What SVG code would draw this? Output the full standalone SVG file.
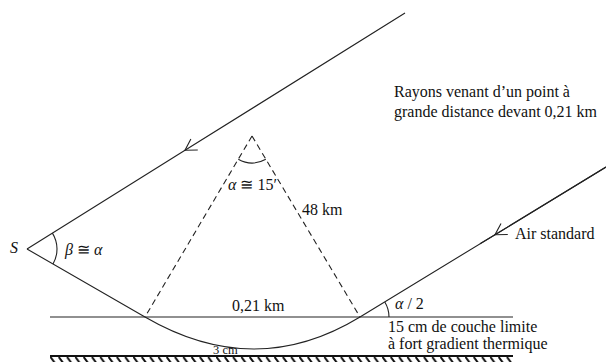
<svg xmlns="http://www.w3.org/2000/svg" width="606" height="362" viewBox="0 0 606 362">
<style>
.ln{fill:none;stroke:#222;stroke-width:1.1}
.ds{fill:none;stroke:#222;stroke-width:1.1;stroke-dasharray:6,4}
text{font-family:'Liberation Serif','Times New Roman',Times,serif;font-size:16px;fill:#111}
.i{font-style:italic}
</style>
<defs>
<marker id="chev" viewBox="-14 -8 16 16" markerWidth="16" markerHeight="16" refX="0" refY="0" orient="auto" markerUnits="userSpaceOnUse">
<path d="M-11,-6.5 L0,0 L-11,6.5" fill="none" stroke="#222" stroke-width="1.1"/>
</marker>
<pattern id="hatch" x="50" y="357" width="8.3" height="6" patternUnits="userSpaceOnUse">
<path d="M0.5,0 L4.5,5.5" stroke="#111" stroke-width="2"/>
</pattern>
</defs>
<rect width="606" height="362" fill="#fff"/>
<g id="connectors">
<polyline id="ray-top" class="ln" points="405,13 185,150.3 27,249" marker-mid="url(#chev)"/>
<path id="ray-bent" class="ln" d="M27,249 L145,317 Q255,381 360,317 L606,167"/>
<polyline id="ray-right-arrow" class="ln" points="606,167 495,234.7 480,243.8" marker-mid="url(#chev)"/>
<line id="dash-left" class="ds" x1="252" y1="136" x2="145" y2="317"/>
<line id="dash-right" class="ds" x1="252" y1="136" x2="360" y2="317"/>
<line id="boundary" class="ln" x1="50" y1="317" x2="513" y2="317"/>
<path id="arc-alpha" class="ln" d="M238.3,159.2 Q252,167 265.8,159.2"/>
<path id="arc-beta" class="ln" d="M52.4,233.1 A30,30 0 0 1 53,264"/>
<path id="arc-half" class="ln" d="M384.8,302 A29,29 0 0 1 389,317"/>
</g>
<g id="ground">
<line x1="50" y1="356" x2="513" y2="356" stroke="#111" stroke-width="1.8"/>
<rect x="50" y="357" width="463" height="5" fill="url(#hatch)"/>
</g>
<g id="labels">
<text class="i" x="10" y="253">S</text>
<text x="65" y="255"><tspan class="i">β</tspan> ≅ <tspan class="i">α</tspan></text>
<text x="228" y="190"><tspan class="i">α</tspan> ≅ 15′</text>
<text x="302" y="215">48 km</text>
<text x="232" y="311">0,21 km</text>
<text x="213" y="354" style="font-size:12.5px">3 cm</text>
<text x="395" y="309"><tspan class="i">α</tspan> / 2</text>
<text x="388" y="332">15 cm de couche limite</text>
<text x="388" y="349">à fort gradient thermique</text>
<text x="394" y="97">Rayons venant d’un point à</text>
<text x="394" y="117">grande distance devant 0,21 km</text>
<text x="515" y="239">Air standard</text>
</g>
</svg>
